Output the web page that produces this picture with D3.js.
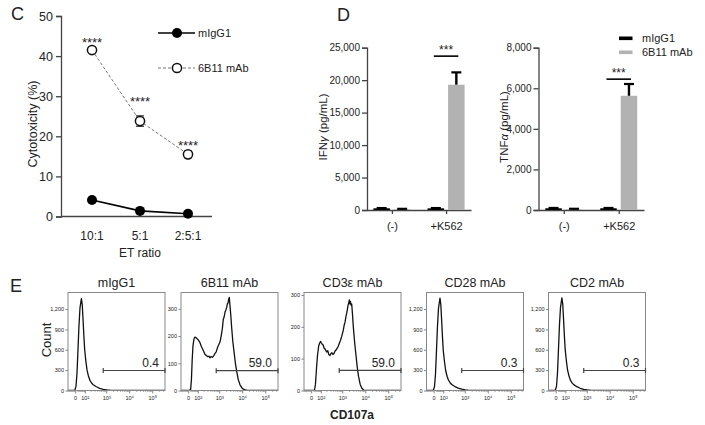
<!DOCTYPE html>
<html><head><meta charset="utf-8">
<script src="https://cdn.jsdelivr.net/npm/d3@7"></script>
<style>
body{margin:0;background:#fff}
svg{display:block}
text{font-family:"Liberation Sans",Arial,Helvetica,sans-serif;fill:#222}
</style></head>
<body><svg id="fig" width="705" height="425"></svg>
<script>
// ---------- Panel C data ----------
const ratios = ["10:1", "5:1", "2:5:1"];
const cytoIgG = [4.1, 1.4, 0.7];
const cytoIgGErr = [0.4, 0.3, 0.2];
const cyto6B11 = [41.5, 23.8, 15.5];
const cyto6B11Err = [0.6, 1.3, 0.8];
const cytoStarLevel = [43.8, 29.0, 18.1];
const cytoStars = ["****", "****", "****"];
const cytoTicks = [0, 10, 20, 30, 40, 50];

// ---------- Panel D data ----------
const conditions = ["(-)", "+K562"];
const groups = ["mIgG1", "6B11 mAb"];
const ifnIgG = [260, 260];
const ifnIgGErr = [40, 40];
const ifn6B11 = [120, 19300];
const ifn6B11Err = [60, 1900];
const ifnTicks = [0, 5000, 10000, 15000, 20000, 25000];
const ifnSigLevel = 23700;
const tnfIgG = [85, 85];
const tnfIgGErr = [15, 15];
const tnf6B11 = [40, 5630];
const tnf6B11Err = [20, 580];
const tnfTicks = [0, 2000, 4000, 6000, 8000];
const tnfSigLevel = 6450;

// ---------- Panel E data ----------
const flowTitles = ["mIgG1", "6B11 mAb", "CD3\u03b5 mAb", "CD28 mAb", "CD2 mAb"];
const flowPercents = ["0.4", "59.0", "59.0", "0.3", "0.3"];
const flowYMax = [1444, 360, 308, 1444, 1444];
const flowYTicks = [[0,300,600,900,1200],[0,100,200,300],[0,100,200,300],[0,300,600,900,1200],[0,300,600,900,1200]];
const flowXTicks = [0, 100, 1000, 10000, 100000];
const flowXLabels = ["0", "10\u00b2", "10\u00b3", "10\u2074", "10\u2075"];
const flowXDomain = [-75, 341000];
const gateStart = 700;
const gateLevel = [295, 73, 63, 295, 295];
const histIgG = [[-75,0],[-20,0],[-8,0],[3,60],[12,250],[21,600],[30,950],[40,1220],[54,1355],[63,1270],[72,1050],[82,800],[92,600],[108,430],[125,300],[150,205],[175,150],[210,110],[250,85],[350,55],[490,32],[700,18],[1000,10],[1350,5],[2000,2],[3000,1],[5000,0],[341000,0]];
const hist6B11 = [[-75,0],[5,0],[18,4],[25,40],[32,110],[40,165],[50,190],[60,196],[72,194],[85,190],[100,186],[120,178],[150,160],[180,148],[220,132],[260,128],[300,124],[340,126],[372,120],[420,125],[480,122],[550,128],[620,136],[700,142],[800,158],[900,168],[1024,178],[1150,200],[1300,228],[1426,262],[1550,270],[1700,288],[1850,296],[2004,305],[2150,318],[2300,322],[2450,336],[2607,342],[2800,310],[3000,280],[3312,229],[3700,180],[4167,143],[4800,100],[5463,70],[6400,40],[7600,21],[9500,8],[12500,2],[16000,0],[341000,0]];
const histCD3 = [[-75,0],[25,0],[35,20],[45,70],[55,110],[68,140],[80,150],[92,154],[100,150],[110,146],[128,142],[145,132],[160,130],[190,121],[215,125],[240,113],[271,110],[300,116],[330,119],[370,113],[411,116],[460,124],[520,128],[580,134],[637,139],[720,150],[800,158],[900,170],[1056,190],[1150,205],[1250,214],[1380,232],[1487,243],[1600,256],[1700,268],[1800,274],[1931,285],[2050,272],[2150,280],[2300,268],[2456,272],[2650,240],[2880,200],[3300,150],[3773,110],[4300,72],[4842,45],[5700,20],[6675,8],[8400,0],[341000,0]];
const histCD28 = [[-75,0],[-20,0],[-8,0],[3,55],[12,240],[21,590],[30,940],[40,1215],[55,1360],[64,1265],[73,1040],[83,790],[93,590],[110,420],[127,295],[150,210],[175,155],[210,115],[250,88],[350,58],[490,34],[700,19],[1000,10],[1350,5],[2000,2],[3000,1],[5000,0],[341000,0]];
const histCD2 = [[-75,0],[-20,0],[-8,0],[3,60],[12,255],[21,610],[30,960],[40,1225],[54,1365],[63,1275],[72,1055],[82,805],[92,605],[108,435],[125,305],[150,210],[175,152],[210,112],[250,86],[350,56],[490,33],[700,18],[1000,10],[1350,5],[2000,2],[3000,1],[5000,0],[341000,0]];
const flowHists = [histIgG, hist6B11, histCD3, histCD28, histCD2];

// =====================================================
const svg = d3.select("#fig");
const AX = "#444";

function panelLetter(t, x, y){
  svg.append("text").attr("x", x).attr("y", y).attr("font-size", 18).text(t);
}

// ---------------- Panel C ----------------
(function(){
  panelLetter("C", 11, 20);
  const x = d3.scalePoint().domain(ratios).range([68, 212]).padding(0.5);
  const y = d3.scaleLinear().domain([0, 50]).range([216.5, 16]);
  const g = svg.append("g");
  const ya = g.append("g").attr("transform", "translate(61,0)")
    .call(d3.axisLeft(y).tickValues(cytoTicks).tickSize(5).tickPadding(3));
  ya.select(".domain").attr("stroke", AX).attr("stroke-width", 1.3);
  ya.selectAll(".tick line").attr("stroke", AX).attr("stroke-width", 1.3);
  ya.selectAll(".tick text").attr("font-size", 12.5).attr("fill", "#333")
    .attr("font-family", '"Liberation Sans",Arial,sans-serif');
  g.append("line").attr("x1", 61).attr("x2", 212).attr("y1", y(0)).attr("y2", y(0))
    .attr("stroke", AX).attr("stroke-width", 1.3);
  g.selectAll(".xl").data(ratios).join("text").attr("class", "xl")
    .attr("x", d => x(d)).attr("y", 239.5).attr("text-anchor", "middle")
    .attr("font-size", 12).text(d => d);
  g.append("text").attr("x", 140).attr("y", 257).attr("text-anchor", "middle")
    .attr("font-size", 12).text("ET ratio");
  g.append("text").attr("transform", "translate(37,124) rotate(-90)")
    .attr("text-anchor", "middle").attr("font-size", 12.5).text("Cytotoxicity (%)");

  const line = d3.line().x((d, i) => x(ratios[i])).y(d => y(d));
  g.append("path").datum(cyto6B11).attr("d", line).attr("fill", "none")
    .attr("stroke", "#777").attr("stroke-width", 1).attr("stroke-dasharray", "3,2");
  g.append("path").datum(cytoIgG).attr("d", line).attr("fill", "none")
    .attr("stroke", "#000").attr("stroke-width", 1.6);
  function err(vals, errs){
    vals.forEach((v, i) => {
      const cx = x(ratios[i]);
      g.append("line").attr("x1", cx).attr("x2", cx).attr("y1", y(v - errs[i])).attr("y2", y(v + errs[i]))
        .attr("stroke", "#333").attr("stroke-width", 1.2);
      [v - errs[i], v + errs[i]].forEach(e => g.append("line").attr("x1", cx - 4).attr("x2", cx + 4)
        .attr("y1", y(e)).attr("y2", y(e)).attr("stroke", "#333").attr("stroke-width", 1.2));
    });
  }
  err(cyto6B11, cyto6B11Err);
  err(cytoIgG, cytoIgGErr);
  g.selectAll(".p1").data(cyto6B11).join("circle").attr("class", "p1")
    .attr("cx", (d, i) => x(ratios[i])).attr("cy", d => y(d)).attr("r", 4.6)
    .attr("fill", "#fff").attr("stroke", "#111").attr("stroke-width", 1.5);
  g.selectAll(".p0").data(cytoIgG).join("circle").attr("class", "p0")
    .attr("cx", (d, i) => x(ratios[i])).attr("cy", d => y(d)).attr("r", 5)
    .attr("fill", "#000");
  g.selectAll(".st").data(cytoStarLevel).join("text").attr("class", "st")
    .attr("x", (d, i) => x(ratios[i])).attr("y", d => y(d) + 6).attr("text-anchor", "middle")
    .attr("font-size", 13).text((d, i) => cytoStars[i]);
  g.append("line").attr("x1", 158).attr("x2", 195).attr("y1", 33).attr("y2", 33)
    .attr("stroke", "#000").attr("stroke-width", 1.6);
  g.append("circle").attr("cx", 177).attr("cy", 33).attr("r", 5).attr("fill", "#000");
  g.append("text").attr("x", 198).attr("y", 37).attr("font-size", 11).text(groups[0]);
  g.append("line").attr("x1", 158).attr("x2", 195).attr("y1", 68).attr("y2", 68)
    .attr("stroke", "#777").attr("stroke-width", 1).attr("stroke-dasharray", "3,2");
  g.append("circle").attr("cx", 177).attr("cy", 68).attr("r", 4.6).attr("fill", "#fff")
    .attr("stroke", "#111").attr("stroke-width", 1.5);
  g.append("text").attr("x", 198).attr("y", 72).attr("font-size", 11).text(groups[1]);
})();

// ---------------- Panel D ----------------
panelLetter("D", 337, 21);
function barPanel(o){
  const g = svg.append("g");
  const x = d3.scalePoint().domain(conditions).range([o.x0, o.x1]).padding(0.46);
  const y = d3.scaleLinear().domain([0, o.max]).range([210, 47.7]);
  const ya = g.append("g").attr("transform", `translate(${o.x0},0)`)
    .call(d3.axisLeft(y).tickValues(o.ticks).tickFormat(d3.format(",")).tickSize(5).tickPadding(2));
  ya.select(".domain").attr("stroke", AX).attr("stroke-width", 1.3);
  ya.selectAll(".tick line").attr("stroke", AX).attr("stroke-width", 1.3);
  ya.selectAll(".tick text").attr("font-size", 10).attr("fill", "#333")
    .attr("font-family", '"Liberation Sans",Arial,sans-serif');
  const xa = g.append("g").attr("transform", `translate(0,210)`)
    .call(d3.axisBottom(x).tickSize(4).tickPadding(8).tickSizeOuter(0));
  xa.select(".domain").attr("stroke", AX).attr("stroke-width", 1.3);
  xa.selectAll(".tick line").attr("stroke", AX).attr("stroke-width", 1.3);
  xa.selectAll(".tick text").attr("font-size", 11).attr("fill", "#222")
    .attr("font-family", '"Liberation Sans",Arial,sans-serif');
  const bw = 16.5, gap = 2;
  const series = [
    {vals: o.igg, errs: o.iggErr, color: "#000", off: -gap - bw},
    {vals: o.mab, errs: o.mabErr, color: "#b2b2b2", off: gap}
  ];
  series.forEach(s => {
    s.vals.forEach((v, i) => {
      const bx = x(conditions[i]) + s.off;
      g.append("rect").attr("x", bx).attr("y", y(v)).attr("width", bw)
        .attr("height", Math.max(0, 210 - y(v))).attr("fill", s.color);
      const cx = bx + bw / 2, top = y(v + s.errs[i]);
      g.append("line").attr("x1", cx).attr("x2", cx).attr("y1", y(v)).attr("y2", top)
        .attr("stroke", "#000").attr("stroke-width", 2.4);
      g.append("line").attr("x1", cx - 5).attr("x2", cx + 5).attr("y1", top).attr("y2", top)
        .attr("stroke", "#000").attr("stroke-width", 2.2);
    });
  });
  const kx = x(conditions[1]);
  const sy = y(o.sig);
  g.append("line").attr("x1", kx - gap - bw / 2 - 2).attr("x2", kx + gap + bw / 2 + 2)
    .attr("y1", sy).attr("y2", sy).attr("stroke", "#000").attr("stroke-width", 1.6);
  g.append("text").attr("x", kx).attr("y", sy - 2).attr("text-anchor", "middle")
    .attr("font-size", 12).text("***");
  const lab = g.append("text").attr("transform", `translate(${o.labX},127) rotate(-90)`)
    .attr("text-anchor", "middle").attr("font-size", 11.5);
  lab.append("tspan").text(o.lab1);
  lab.append("tspan").attr("font-style", "italic").text(o.labGreek);
  lab.append("tspan").text(" (pg/mL)");
}
barPanel({x0: 367, x1: 471, max: 25000, ticks: ifnTicks, igg: ifnIgG, iggErr: ifnIgGErr,
  mab: ifn6B11, mabErr: ifn6B11Err, sig: ifnSigLevel, labX: 327, lab1: "IFN", labGreek: "\u03b3"});
barPanel({x0: 538.5, x1: 644, max: 8000, ticks: tnfTicks, igg: tnfIgG, iggErr: tnfIgGErr,
  mab: tnf6B11, mabErr: tnf6B11Err, sig: tnfSigLevel, labX: 508, lab1: "TNF", labGreek: "\u03b1"});
svg.append("rect").attr("x", 619).attr("y", 36.5).attr("width", 13.5).attr("height", 3.6).attr("fill", "#000");
svg.append("text").attr("x", 642).attr("y", 42).attr("font-size", 11).text(groups[0]);
svg.append("rect").attr("x", 619).attr("y", 50.5).attr("width", 13.5).attr("height", 3.6).attr("fill", "#b2b2b2");
svg.append("text").attr("x", 642).attr("y", 56).attr("font-size", 11).text(groups[1]);

// ---------------- Panel E ----------------
panelLetter("E", 10, 292);
const T = v => Math.asinh(v / 89);
const boxLefts = [68, 181, 304, 426.5, 548.5];
const boxW = 97, boxTop = 292.5, boxBot = 390.5;
svg.append("defs");
flowHists.forEach((hist, k) => {
  const L = boxLefts[k];
  const g = svg.append("g");
  const xs = d3.scaleLinear().domain(flowXDomain.map(T)).range([L, L + boxW]);
  const x = v => xs(T(v));
  const y = d3.scaleLinear().domain([0, flowYMax[k]]).range([boxBot, boxTop]);
  svg.select("defs").append("clipPath").attr("id", "cp" + k).append("rect")
    .attr("x", L).attr("y", boxTop).attr("width", boxW).attr("height", boxBot - boxTop);
  g.append("text").attr("x", L + boxW / 2).attr("y", 287).attr("text-anchor", "middle")
    .attr("font-size", 12.5).text(flowTitles[k]);
  const ya = g.append("g").attr("transform", `translate(${L},0)`)
    .call(d3.axisLeft(y).tickValues(flowYTicks[k]).tickFormat(d3.format(",")).tickSize(2.5).tickPadding(1.5).tickSizeOuter(0));
  ya.select(".domain").remove();
  ya.selectAll(".tick line").attr("stroke", "#666").attr("stroke-width", 0.8);
  ya.selectAll(".tick text").attr("font-size", 5.5).attr("fill", "#555")
    .attr("font-family", '"Liberation Sans",Arial,sans-serif');
  const minors = [];
  [10, 100, 1000, 10000, 100000].forEach(b => { for (let m = 2; m <= 9; m++) if (b * m < flowXDomain[1]) minors.push(b * m); });
  [-10, -20, -30, -40, -50, -60, -70].forEach(v => minors.push(v));
  g.selectAll(".mn").data(minors).join("line").attr("class", "mn")
    .attr("x1", d => x(d)).attr("x2", d => x(d)).attr("y1", boxBot).attr("y2", boxBot + 1.5)
    .attr("stroke", "#777").attr("stroke-width", 0.6);
  g.selectAll(".mj").data(flowXTicks).join("line").attr("class", "mj")
    .attr("x1", d => x(d)).attr("x2", d => x(d)).attr("y1", boxBot).attr("y2", boxBot + 3)
    .attr("stroke", "#666").attr("stroke-width", 0.8);
  g.selectAll(".ml").data(flowXTicks).join("text").attr("class", "ml")
    .attr("x", d => x(d)).attr("y", boxBot + 9).attr("text-anchor", "middle")
    .attr("font-size", 5.5).attr("fill", "#555").text((d, i) => flowXLabels[i]);
  g.append("path").datum(hist).attr("clip-path", `url(#cp${k})`)
    .attr("d", d3.line().x(d => x(d[0])).y(d => y(d[1])))
    .attr("fill", "none").attr("stroke", "#111").attr("stroke-width", 1.3).attr("stroke-linejoin", "round");
  g.append("rect").attr("x", L).attr("y", boxTop).attr("width", boxW).attr("height", boxBot - boxTop)
    .attr("fill", "none").attr("stroke", "#888").attr("stroke-width", 1);
  const gy = y(gateLevel[k]), gx0 = x(gateStart), gx1 = L + boxW;
  g.append("line").attr("x1", gx0).attr("x2", gx1).attr("y1", gy).attr("y2", gy)
    .attr("stroke", "#444").attr("stroke-width", 1.2);
  [gx0, gx1].forEach(xx => g.append("line").attr("x1", xx).attr("x2", xx).attr("y1", gy - 2.5).attr("y2", gy + 2.5)
    .attr("stroke", "#444").attr("stroke-width", 1.2));
  g.append("text").attr("x", gx1 - 6).attr("y", gy - 3.5).attr("text-anchor", "end")
    .attr("font-size", 12).text(flowPercents[k]);
});
svg.append("text").attr("transform", "translate(51,340) rotate(-90)").attr("text-anchor", "middle")
  .attr("font-size", 13).text("Count");
svg.append("text").attr("x", 352).attr("y", 419).attr("text-anchor", "middle")
  .attr("font-size", 12).attr("font-weight", "bold").text("CD107a");
</script></body></html>
